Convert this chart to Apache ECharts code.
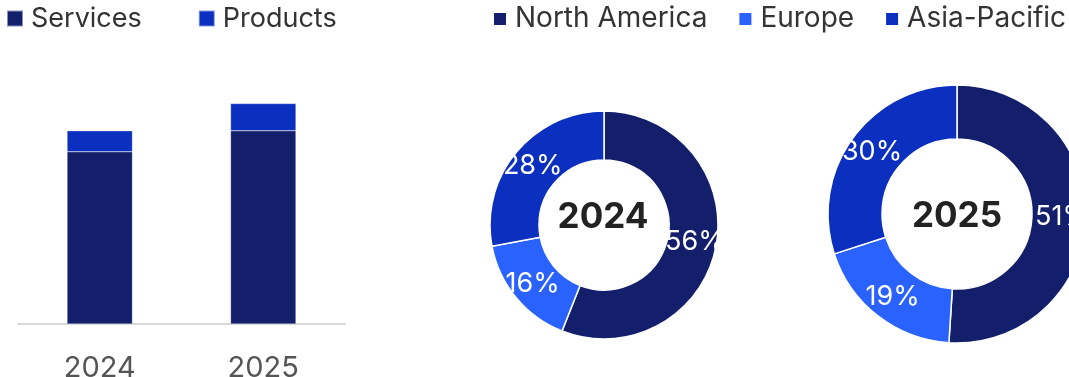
<!DOCTYPE html>
<html>
<head>
<meta charset="utf-8">
<script src="https://cdn.jsdelivr.net/npm/echarts@6/dist/echarts.min.js"></script>
<style>
  html, body { margin: 0; padding: 0; background: #ffffff; }
  #chart { width: 1069px; height: 377px; }
</style>
</head>
<body>
<div id="chart"></div>
<script>
// Revenue mix by year: stacked bar (type) and donuts (region)
const years = ['2024', '2025'];
const services = [8.2, 9.2];
const products = [1.0, 1.3];

const regions = ['North America', 'Europe', 'Asia-Pacific'];
const regionShare2024 = [56, 16, 28];
const regionShare2025 = [51, 19, 30];

const NAVY = '#131f6b';
const BLUE = '#0b2fbf';
const LIGHT_BLUE = '#2962ff';
const FONT = 'Inter, "Noto Sans", sans-serif';

const chart = echarts.init(document.getElementById('chart'));

function donut(name, shares, center, radius) {
  return {
    name: name,
    type: 'pie',
    center: center,
    radius: radius,
    startAngle: 90,
    clockwise: true,
    avoidLabelOverlap: false,
    silent: true,
    itemStyle: { borderColor: '#ffffff', borderWidth: 1.5 },
    label: {
      show: true,
      position: 'inside',
      color: '#ffffff',
      fontFamily: FONT,
      fontSize: 27,
      formatter: '{c}%'
    },
    labelLine: { show: false },
    data: regions.map((r, i) => ({
      name: r,
      value: shares[i],
      itemStyle: { color: [NAVY, LIGHT_BLUE, BLUE][i] }
    }))
  };
}

chart.setOption({
  animation: false,
  textStyle: { fontFamily: FONT },
  legend: [
    {
      data: ['Services', 'Products'],
      left: 6,
      top: 5,
      padding: 0,
      icon: 'rect',
      itemWidth: 16,
      itemHeight: 16,
      itemGap: 56,
      textStyle: { fontSize: 27, color: '#333333', fontFamily: FONT, padding: [0, 0, 0, 3] }
    },
    {
      data: regions,
      left: 492,
      top: 5,
      padding: 0,
      icon: 'rect',
      itemWidth: 14,
      itemHeight: 14,
      itemGap: 30,
      textStyle: { fontSize: 28, color: '#333333', fontFamily: FONT, padding: [0, 0, 0, 3] }
    }
  ],
  grid: { left: 18, right: 724, top: 72, bottom: 53, outerBoundsMode: 'none', containLabel: false },
  xAxis: {
    type: 'category',
    data: years,
    axisLine: { lineStyle: { color: '#d9d9d9', width: 2 } },
    axisTick: { show: false },
    axisLabel: { color: '#555555', fontSize: 29, margin: 30, fontFamily: FONT }
  },
  yAxis: {
    type: 'value',
    min: 0,
    max: 12,
    show: false,
    splitLine: { show: false }
  },
  graphic: [
    {
      type: 'text',
      x: 603, y: 217,
      style: {
        text: years[0], fill: '#222222', fontSize: 35, fontWeight: 'bold',
        fontFamily: FONT, align: 'center', verticalAlign: 'middle'
      }
    },
    {
      type: 'text',
      x: 957, y: 216,
      style: {
        text: years[1], fill: '#222222', fontSize: 35, fontWeight: 'bold',
        fontFamily: FONT, align: 'center', verticalAlign: 'middle'
      }
    }
  ],
  series: [
    {
      name: 'Services',
      type: 'bar',
      stack: 'total',
      barWidth: '40%',
      silent: true,
      itemStyle: { color: NAVY, borderColor: 'rgba(255,255,255,0.5)', borderWidth: 0.5 },
      data: services
    },
    {
      name: 'Products',
      type: 'bar',
      stack: 'total',
      barWidth: '40%',
      silent: true,
      itemStyle: { color: BLUE, borderColor: 'rgba(255,255,255,0.5)', borderWidth: 0.5 },
      data: products
    },
    donut('2024', regionShare2024, [604, 225], [65, 114]),
    donut('2025', regionShare2025, [957, 214], [75, 129])
  ]
});
</script>
</body>
</html>
